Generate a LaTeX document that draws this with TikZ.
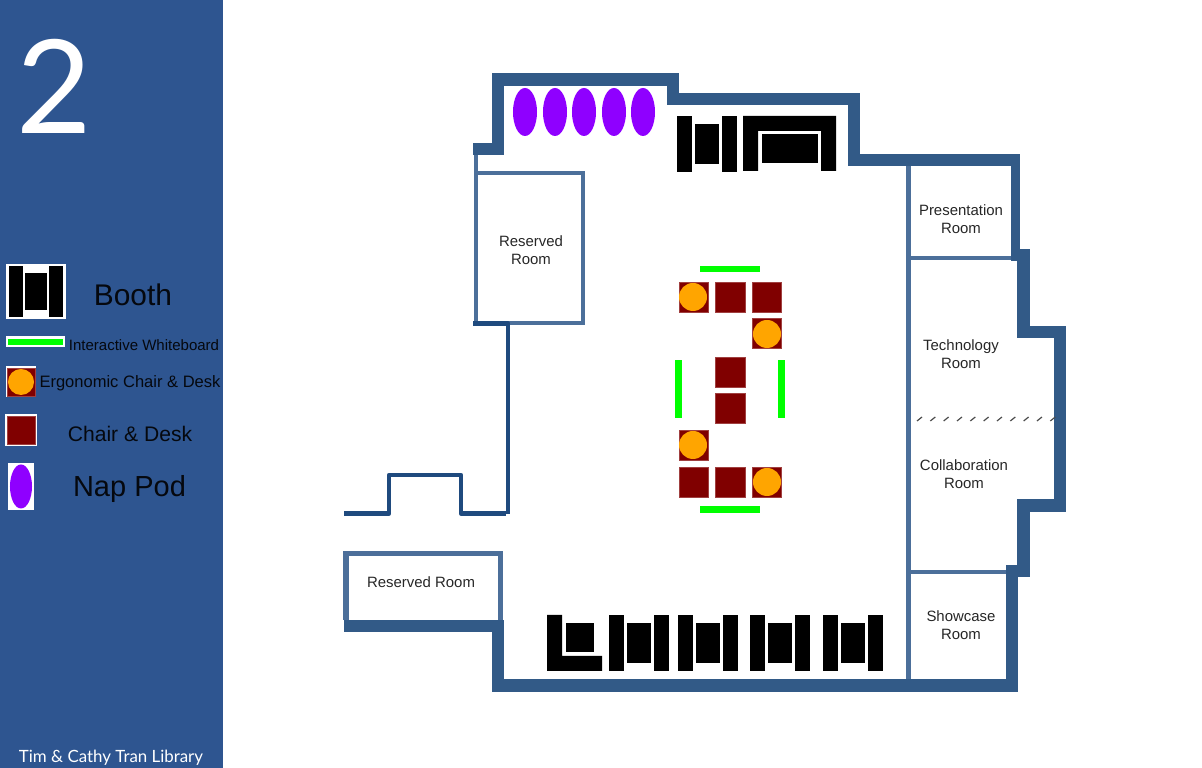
\documentclass[tikz,border=0pt]{standalone}
\usepackage{fontspec}
\setmainfont{Liberation Sans}
\newfontfamily\titlefont{Lato}
\usetikzlibrary{shapes.geometric}
\definecolor{sidebar}{HTML}{2E5590}
\definecolor{wallblue}{HTML}{325A87}
\definecolor{thinwall}{HTML}{4C6F9A}
\definecolor{darkline}{HTML}{1F4A7E}
\definecolor{deskred}{HTML}{800000}
\definecolor{chairorange}{HTML}{FFA500}
\definecolor{boardgreen}{HTML}{00FF00}
\definecolor{podpurple}{HTML}{8F00FF}
\tikzset{
    wall/.style={draw=wallblue,line width=0.125cm,line join=miter},
    thin wall/.style={draw=thinwall,line width=0.045cm},
    dark wall/.style={draw=darkline,line width=0.045cm,line join=round},
    room label/.style={inner sep=0pt,align=center,text=black!85,font=\fontsize{4.25}{5.1}\selectfont},
    legend label/.style={inner sep=0pt,text=black!90!sidebar},
    desk/.style={rectangle,fill=deskred,draw=deskred!75!white,line width=0.1pt,inner sep=0pt,minimum size=0.295cm},
    chair/.style={circle,fill=chairorange,inner sep=0pt,minimum size=0.28cm},
    pod/.style={ellipse,fill=podpurple,inner sep=0pt,minimum width=0.24cm,minimum height=0.48cm},
    whitebox/.style={fill=white}
}
\begin{document}
\begin{tikzpicture}[x=0.01cm,y=-0.01cm]
    \useasboundingbox (0,0) rectangle (1202,768);

    % Blue side panel
    \fill[sidebar] (0,0) rectangle (223,768);
    \node[inner sep=0pt,text=white,font=\titlefont\fontsize{37}{37}\selectfont] (floor) at (54,86) {2};
    \node[inner sep=0pt,text=white,font=\titlefont\fontsize{4.8}{6}\selectfont] (library) at (111,757.5) {Tim \& Cathy Tran Library};

    % Legend boxes
    \fill[whitebox] (6,264) rectangle (66,319);
    \fill[black] (9,266) rectangle (23,317);
    \fill[black] (25,273) rectangle (47,310);
    \fill[black] (49,266) rectangle (63,317);
    \fill[whitebox] (6,336) rectangle (65,347);
    \fill[boardgreen] (8,339) rectangle (63,345);
    \fill[whitebox] (6,366) rectangle (36,397);
    \node[desk,minimum size=0.28cm] (legenddesk1) at (21,382) {};
    \node[chair,minimum size=0.26cm] (legendchair) at (21,382) {};
    \fill[whitebox] (5,414) rectangle (37,446);
    \node[desk,minimum size=0.275cm] (legenddesk2) at (21,430) {};
    \fill[whitebox] (8,463) rectangle (34,510);
    \node[pod,minimum width=0.22cm,minimum height=0.44cm] (legendpod) at (21,486.5) {};

    % Legend labels
    \node[legend label,font=\fontsize{8.5}{10}\selectfont] (lbooth) at (133,295) {Booth};
    \node[legend label,font=\fontsize{4.27}{5}\selectfont] (lboard) at (144,345) {Interactive Whiteboard};
    \node[legend label,font=\fontsize{4.7}{6}\selectfont] (lergo) at (130,383) {Ergonomic Chair \& Desk};
    \node[legend label,font=\fontsize{6}{7}\selectfont] (lchair) at (130,433.5) {Chair \& Desk};
    \node[legend label,font=\fontsize{8.25}{10}\selectfont] (lnap) at (129.5,489) {Nap Pod};

    % Thin inner walls
    \draw[thin wall] (908.5,160) -- (908.5,685);
    \draw[thin wall] (908,258) -- (1018,258);
    \draw[thin wall] (908,572) -- (1008,572);
    \draw[thin wall] (476,155) -- (476,323) -- (583,323) -- (583,173) -- (476,173);
    \draw[thin wall,line width=0.05cm] (346,620) -- (346,554) -- (500,554) -- (500,620);

    % Outer walls, thicker and thinner runs
    \draw[wall] (344,626) -- (498,626) -- (498,685.5) -- (1012,685.5) -- (1012,571) -- (1023.5,571)
        -- (1023.5,505.5) -- (1060,505.5) -- (1060,332) -- (1023.5,332) -- (1023.5,255) -- (1011,255);
    \draw[wall,line width=0.09cm] (1015,255) -- (1015,153.75);
    \draw[wall] (1019,160) -- (854,160) -- (854,99) -- (673,99) -- (673,79.5) -- (498,79.5) -- (498,149) -- (473,149);

    % Corridor by the reserved room
    \draw[dark wall] (473,323.5) -- (508,323.5) -- (508,514);
    \draw[dark wall] (344,513.5) -- (389,513.5) -- (389,475) -- (461,475) -- (461,513.5) -- (506,513.5);

    % Dashed divider, technology and collaboration
    \foreach \dx in {0,1,...,10} {
        \draw[black!70,line width=0.012cm] ({917+\dx*13.33},421) -- +(5,-4);
    }

    % Room labels
    \node[room label] (presentation) at (961,219) {Presentation\\Room};
    \node[room label] (technology) at (961,354) {Technology\\Room};
    \node[room label] (collaboration) at (964,474) {Collaboration\\Room};
    \node[room label] (showcase) at (961,625) {Showcase\\Room};
    \node[room label] (reserved1) at (531,250) {Reserved\\Room};
    \node[room label] (reserved2) at (421,582) {Reserved Room};

    % Nap pods along the top
    \foreach \n/\px in {1/525,2/555,3/584,4/614,5/643} {
        \node[pod] (pod\n) at (\px,112) {};
    }

    % Booths
    \foreach \bx/\by in {677/116,609/615,678/615,750/615,823/615} {
        \begin{scope}[shift={(\bx,\by)}]
            \fill[black] (0,0) rectangle (15,56);
            \fill[black] (18,8) rectangle (42,48);
            \fill[black] (45,0) rectangle (60,56);
        \end{scope}
    }
    \fill[black] (743,171) -- (743,116) -- (836,116) -- (836,171) -- (821,171) -- (821,131) -- (758,131) -- (758,171) -- cycle;
    \fill[black] (762,134) rectangle (818,163);
    \fill[black] (547,615) -- (562,615) -- (562,656) -- (602,656) -- (602,671) -- (547,671) -- cycle;
    \fill[black] (566,623) rectangle (594,652);

    % Desks in the middle
    \foreach \n/\px/\py in {1/693.5/297,2/730/297,3/766.5/297,4/766.5/333,5/730/372,6/730/408,7/693.5/445,8/693.5/482,9/730/482,10/766.5/482} {
        \node[desk] (desk\n) at (\px,\py) {};
    }
    \foreach \n/\px/\py in {1/693/297,2/767/334,3/693/445,4/767/482} {
        \node[chair] (chair\n) at (\px,\py) {};
    }

    % Whiteboards
    \fill[boardgreen] (700,266) rectangle (760,272);
    \fill[boardgreen] (700,506) rectangle (760,513);
    \fill[boardgreen] (675,360) rectangle (682,418);
    \fill[boardgreen] (778,360) rectangle (785,418);
\end{tikzpicture}
\end{document}
